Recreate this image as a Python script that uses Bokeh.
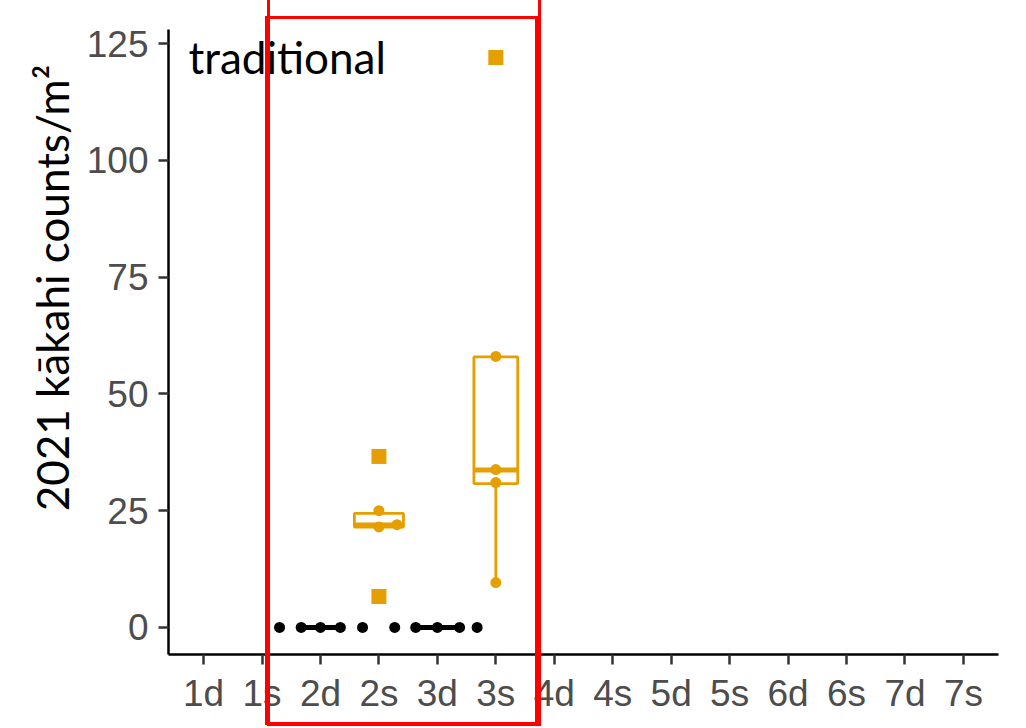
import numpy as np
from bokeh.plotting import figure
from bokeh.models import (ColumnDataSource, Range1d, FixedTicker, Label, Title,
                          InlineStyleSheet)
from bokeh.embed import file_html
from bokeh.resources import INLINE

# ---------------- data ----------------
categories = ["1d", "1s", "2d", "2s", "3d", "3s", "4d", "4s",
              "5d", "5s", "6d", "6s", "7d", "7s"]
y_ticks = [0, 25, 50, 75, 100, 125]

# jittered individual counts
pt_cat = ["2d", "2d", "2d", "2d", "2d",
          "3d", "3d", "3d", "3d", "3d",
          "2s", "2s", "2s",
          "3s", "3s", "3s", "3s"]
pt_jitter = [-0.70, -0.33, 0.0, 0.34, 0.72,
             -0.73, -0.37, 0.0, 0.38, 0.68,
             0.0, 0.0, 0.31,
             0.0, 0.0, 0.0, 0.0]
pt_value = [0, 0, 0, 0, 0,
            0, 0, 0, 0, 0,
            25.0, 21.5, 22.0,
            58.0, 33.8, 31.0, 9.6]
pt_group = ["d"] * 10 + ["s"] * 7

# boxplot summaries
box_cat = ["2d", "3d", "2s", "3s"]
box_group = ["d", "d", "s", "s"]
box_width = [0.67, 0.75, 0.84, 0.75]
box_q1 = [0, 0, 21.5, 30.8]
box_med = [0, 0, 21.9, 33.7]
box_q3 = [0, 0, 24.4, 57.9]
box_wlo = [0, 0, 21.5, 9.6]
box_whi = [0, 0, 25.0, 58.0]

# outliers
out_cat = ["2s", "2s", "3s"]
out_value = [36.6, 6.6, 122.0]

group_colors = {"d": "#000000", "s": "#E69F00"}

# ---------------- build ----------------
pos = {c: i + 1 for i, c in enumerate(categories)}

# red highlight frames drawn over the whole figure (outside the plot frame)
css = """
:host { position: relative; overflow: visible; }
:host::before, :host::after {
  content: ""; position: absolute; box-sizing: border-box;
  border: 3px solid #ff0000; pointer-events: none; z-index: 100;
}
:host::before { left: 266.5px; top: -10px; width: 274px; height: 736px; }
:host::after  { left: 264.5px; top: 15.5px; width: 273px; height: 709px; }
"""

p = figure(frame_width=830, frame_height=625,
           min_border_left=168, min_border_right=20,
           min_border_top=29, min_border_bottom=66,
           x_range=Range1d(0.4, 14.6), y_range=Range1d(-5.8, 128.0),
           output_backend="svg", toolbar_location=None,
           stylesheets=[InlineStyleSheet(css=css)])
p.outline_line_color = None
p.grid.visible = False
p.background_fill_color = "white"
p.border_fill_color = "white"

# axes
for ax in (p.xaxis[0], p.yaxis[0]):
    ax.axis_line_color = "black"
    ax.axis_line_width = 2.5
    ax.major_tick_line_color = "#333333"
    ax.major_tick_line_width = 2.5
    ax.major_tick_out = 10
    ax.major_tick_in = 0
    ax.minor_tick_line_color = None
    ax.major_label_text_font = "Liberation Sans"
    ax.major_label_text_font_size = "37px"
    ax.major_label_text_color = "#4d4d4d"

p.xaxis.ticker = FixedTicker(ticks=[pos[c] for c in categories])
p.xaxis.major_label_overrides = {pos[c]: c for c in categories}
p.xaxis.major_label_standoff = 8
p.yaxis.ticker = FixedTicker(ticks=y_ticks)
p.yaxis.major_label_standoff = 10

# y axis title
p.add_layout(Title(text="2021 kākahi counts/m²", align="right", offset=35,
                   text_font="Lato", text_font_size="44px",
                   text_font_style="normal", text_color="black",
                   standoff=12), "left")

# boxes
bx = [pos[c] for c in box_cat]
bsrc = ColumnDataSource(dict(
    x=bx,
    left=[x - w / 2 for x, w in zip(bx, box_width)],
    right=[x + w / 2 for x, w in zip(bx, box_width)],
    q1=box_q1, q3=box_q3, med=box_med, wlo=box_wlo, whi=box_whi,
    color=[group_colors[g] for g in box_group]))
p.segment(x0="x", y0="wlo", x1="x", y1="q1", source=bsrc,
          line_color="color", line_width=2.8)
p.segment(x0="x", y0="q3", x1="x", y1="whi", source=bsrc,
          line_color="color", line_width=2.8)
p.quad(left="left", right="right", bottom="q1", top="q3", source=bsrc,
       fill_color=None, line_color="color", line_width=2.8)
p.segment(x0="left", y0="med", x1="right", y1="med", source=bsrc,
          line_color="color", line_width=5)

# outliers
p.scatter(x=[pos[c] for c in out_cat], y=out_value, marker="square",
          size=15, fill_color="#E69F00", line_color=None)

# points
psrc = ColumnDataSource(dict(
    x=[pos[c] + j for c, j in zip(pt_cat, pt_jitter)],
    y=pt_value,
    color=[group_colors[g] for g in pt_group]))
p.scatter(x="x", y="y", source=psrc, size=11, fill_color="color",
          line_color=None)

# panel label
p.add_layout(Label(x=20, y=598, x_units="screen", y_units="screen",
                   text="traditional", text_font="Lato",
                   text_font_size="44px", text_color="black",
                   text_baseline="alphabetic", text_align="left"))

open("out.html", "w").write(file_html(p, INLINE))
